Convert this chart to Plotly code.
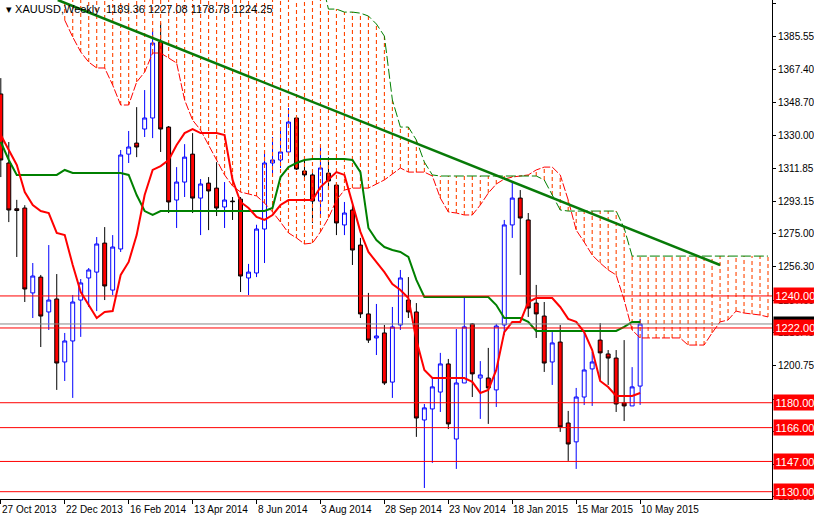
import plotly.graph_objects as go

opens = [1353.5,1314.7,1289,1289.4,1241.7,1250.6,1231,1238.3,1202.9,1214.7,1237.7,1250.1,1253.4,1269.7,1243.3,1266.4,1319.7,1325.9,1333.8,1340,
         1382.7,1334.9,1293.9,1304,1319.7,1295,1303.4,1300.6,1290,1293.3,1294.4,1250.1,1252.9,1277.6,1314.7,1316.4,1320.9,1340,1310.2,1308,
         1293.3,1309,1302.3,1279.9,1288.3,1268.6,1229.9,1216.4,1219.2,1191.6,1223.7,1237.7,1231,1170.3,1176.5,1186,1201.8,1159.6,1191.1,1224.3,
         1193.9,1193.9,1187.2,1223.7,1279.9,1295,1282.7,1236,1228.7,1202.9,1214.1,1168.6,1158,1183.2,1199,1215.2,1207.4,1205.1,1179.9,1178.2,1189.36]
highs = [1362.4,1326.5,1294,1291,1258.5,1251.8,1268.6,1252.3,1219.2,1240.5,1249.5,1255.7,1273.1,1278.7,1274.2,1322,1332.7,1346.1,1355.7,1388.8,
         1393.3,1335.5,1312.4,1325.3,1331.5,1305.7,1306.8,1315.2,1304,1295.6,1295.6,1258,1280,1322,1329.3,1334.9,1345.6,1340.6,1318,1309,
         1323.7,1318,1304,1292.8,1291,1272.6,1241.7,1235.5,1223.7,1233.8,1254.6,1250.6,1236,1179.3,1193.9,1208,1204.6,1221.4,1238.9,1224.8,
         1203.4,1210.8,1224.3,1282.7,1304,1299.5,1286.6,1246.2,1236.6,1219.7,1223.7,1175.4,1188.3,1220.9,1208.5,1224.8,1209.6,1209.6,1215.2,1200,1227.08]
lows = [1306.8,1281.5,1261.9,1236.6,1227.6,1211.3,1220.9,1187.2,1192.2,1182.7,1217,1233.8,1231.5,1237.7,1240.5,1264.7,1314.7,1318,1329.3,1328.7,
        1320.9,1286.6,1278.2,1295.6,1286.6,1274.2,1277,1284.9,1278.2,1282.7,1242.2,1240.5,1250.6,1258.5,1308,1311.9,1320.3,1310.8,1306,1281,
        1284.4,1299.5,1274.2,1274.2,1257.4,1227.6,1213.6,1206.8,1190,1182.7,1220.9,1227.6,1160.8,1132.1,1146.2,1174.8,1165.2,1142.8,1191.1,1183.2,
        1170.9,1168.1,1177.6,1218,1272.6,1251.8,1228.2,1216.4,1197.3,1190,1163.6,1147.3,1142.8,1178.7,1178.2,1192.8,1190,1174.8,1169.7,1178.2,1178.78]
closes = [1316.4,1288.3,1288,1243.9,1251.2,1228.7,1237.7,1202.3,1214.7,1236.6,1247.3,1254.6,1269.2,1245.6,1267.5,1319.2,1323.7,1323.7,1340,1382.1,
          1333.8,1292.8,1304,1318,1295,1302.9,1299,1289.4,1293.9,1293,1251.2,1253.4,1277.6,1314.7,1316.4,1320.9,1337.7,1311.3,1308,1293.3,
          1311.9,1304.6,1281,1286.6,1265.8,1229.9,1215.2,1217.5,1191.1,1222.6,1250.1,1231,1171.4,1177.1,1188.9,1201.8,1168.1,1191.1,1222.6,1196.2,
          1195.6,1188.3,1223.1,1279.9,1295,1283.8,1233.2,1229.9,1202.3,1213.6,1166.4,1156.8,1183.2,1198.4,1202.9,1208,1205.1,1179.3,1178.2,1188.9,1224.25]

tenkan = [1330.4,1322,1313.6,1298.4,1291.1,1287.7,1286.6,1275.4,1274.2,1257.4,1242.2,1234.9,1227.6,1231,1231.5,1251.8,1259.1,1274.2,1296.7,1310.8,
          1313,1316.4,1324.8,1331.5,1333.7,1331.5,1331.5,1331.5,1330.4,1305.2,1292.8,1289.4,1284.4,1282.7,1285.5,1291.1,1293.9,1293.9,1293.9,1293.9,
          1301.2,1305.2,1309.6,1308,1292.2,1276,1264.7,1259.1,1253.4,1246.7,1243.3,1238.8,1215.2,1198.4,1193.9,1193.9,1193.9,1193.9,1193.9,1191.7,
          1185.5,1187.2,1198.4,1219.7,1225.4,1225.4,1236.6,1238.8,1238.8,1238.8,1233.8,1227.1,1225.4,1219.7,1209.6,1192.2,1188.8,1183.8,1183.8,1183.8,1185.5]
kijun = ([1326.5,1316.4] + [1308]*6 + [1310.8] + [1309.1]*7 + [1308,1296.7,1287.7,1285.5] + [1287.7]*14 +
         [1289.4,1306.8,1312.4,1314.7,1316.4] + [1316.9]*5 + [1316.4,1309.6,1278.2,1271.4,1267.5,1265.8,1264.7,1261.9,1249] +
         [1239.4]*9 + [1234.9] + [1227.6]*3 + [1225.4] + [1220.3]*11 + [1222.6] + [1225.4]*2)

cloud_start = 8
span_a = ([1395.0,1385.5,1377.1,1371.4,1368.1,1368.1,1358.5,1347.3,1347.3,1360.2,1365.8,1376.5,1376.5,1373.7,1370.9,1350.1,1338.8,1333.2,
           1324.8,1316.4,1308,1301.8,1298.4,1297.3,1296.2,1292.2,1287.2,1281.5,1275.4,1272.6,1269.2,1269.7,1276,1283.8,1293.9,1299.5,1300.6,
           1300.6,1300.6,1302.9,1305.2,1308.5,1311.9,1309.6,1309.6,1309.6,1307.4,1295,1287.2,1286.6,1285.5,1285.5,1291.1,1297.8,1302.9,1305.7,
           1306.8,1307.4,1308,1310.8,1312.4,1312.4,1308,1293.9,1277,1270.3,1263,1258.5,1254.6,1251.8,1237.7,1220.9,1216.4] + [1216.4]*5 +
          [1212.4]*3 + [1219.2,1225.4,1226.5,1231.5,1230.4,1229.9,1229.3,1228.2])
span_b = ([1420]*33 + [1401.2,1401.2,1399.5,1399.5,1398.9,1397.3,1392.8,1386.0,1350.1,1334.9,1334.9,1327.6,1315.2,1308] +
          [1307.4]*13 + [1305.2,1296.7,1288.3] + [1287.7]*7 + [1278.2] + [1262.4]*18)

levels = [1240.00, 1222.00, 1180.00, 1166.00, 1147.00, 1130.00]
last_price = 1224.25
trend_x = [7.125, 90]
trend_y = [1406.3, 1257.4]
date_idx = [0, 8, 16, 24, 32, 40, 48, 56, 64, 72, 80]
date_labels = ["27 Oct 2013", "22 Dec 2013", "16 Feb 2014", "13 Apr 2014", "8 Jun 2014", "3 Aug 2014",
               "28 Sep 2014", "23 Nov 2014", "18 Jan 2015", "15 Mar 2015", "10 May 2015"]
ytick_vals = [1404.25,1385.55,1367.40,1348.70,1330.00,1311.85,1293.15,1275.00,1256.30,1237.60,1219.45,1200.75,1182.05,1163.90,1145.20,1127.05]

FONT = "Liberation Sans"
n = len(opens)
xs = list(range(n))
cx = list(range(cloud_start, cloud_start + len(span_a)))

fig = go.Figure()
hx, hy = [], []
for x, a, b in zip(cx, span_a, span_b):
    hx += [x, x, None]
    hy += [min(a, b), max(a, b), None]
fig.add_trace(go.Scatter(x=hx, y=hy, mode="lines", line=dict(color="#FF4500", width=1.1, dash="4px,3px"), hoverinfo="skip"))
fig.add_trace(go.Scatter(x=cx, y=span_a, mode="lines", line=dict(color="#FF0000", width=1, dash="8px,2px"), hoverinfo="skip"))
fig.add_trace(go.Scatter(x=cx, y=span_b, mode="lines", line=dict(color="#008000", width=1, dash="10px,3px"), hoverinfo="skip"))

fig.add_trace(go.Candlestick(x=xs, open=opens, high=highs, low=lows, close=closes,
                             increasing=dict(line=dict(color="#0000FF", width=1), fillcolor="#FFFFFF"),
                             decreasing=dict(line=dict(color="#000000", width=1), fillcolor="#FF0000"),
                             whiskerwidth=0, hoverinfo="skip"))
fig.add_trace(go.Scatter(x=xs, y=kijun, mode="lines", line=dict(color="#008000", width=2), hoverinfo="skip"))
fig.add_trace(go.Scatter(x=xs, y=tenkan, mode="lines", line=dict(color="#FF0000", width=2), hoverinfo="skip"))
fig.add_trace(go.Scatter(x=trend_x, y=trend_y, mode="lines", line=dict(color="#087A08", width=2.5), hoverinfo="skip"))

shapes = [dict(type="line", xref="paper", x0=0, x1=1, yref="y", y0=last_price, y1=last_price,
               line=dict(color="#888888", width=1))]
for lv in levels:
    shapes.append(dict(type="line", xref="paper", x0=0, x1=1, yref="y", y0=lv, y1=lv, line=dict(color="#FF0000", width=1)))

ann = []
for i, lbl in zip(date_idx, date_labels):
    ann.append(dict(x=i, y=0, xref="x", yref="paper", yanchor="top", xanchor="left", yshift=-3, xshift=-1,
                    text=lbl, showarrow=False, font=dict(family=FONT, size=10, color="black")))
ann.append(dict(xref="paper", x=1, y=last_price, yref="y", xanchor="left", xshift=1, text="%.2f" % last_price,
                showarrow=False, bgcolor="#000000", font=dict(family=FONT, size=11, color="white"), borderpad=1))
for lv in levels:
    ann.append(dict(xref="paper", x=1, y=lv, yref="y", xanchor="left", xshift=1, text="%.2f" % lv,
                    showarrow=False, bgcolor="#FF0000", font=dict(family=FONT, size=11, color="white"), borderpad=1.5))
ann.append(dict(xref="paper", yref="paper", x=0, y=1, xanchor="left", yanchor="top", xshift=4, yshift=-1,
                text="▾ XAUUSD,Weekly  %.2f %.2f %.2f %.2f" % (opens[-1], highs[-1], lows[-1], closes[-1]),
                showarrow=False, font=dict(family=FONT, size=11, color="black")))

fig.update_layout(width=814, height=516, margin=dict(l=0, r=42, t=0, b=17),
                  paper_bgcolor="white", plot_bgcolor="white", showlegend=False,
                  font=dict(family=FONT, size=10, color="black"),
                  shapes=shapes, annotations=ann)
fig.update_xaxes(range=[-0.1, 96.5], showgrid=False, zeroline=False, rangeslider_visible=False,
                 tickvals=date_idx, showticklabels=False, ticks="outside", ticklen=4, tickcolor="black",
                 showline=True, linecolor="black", linewidth=1)
fig.update_yaxes(range=[1125.9, 1406.3], side="right", showgrid=False, zeroline=False,
                 tickvals=ytick_vals, ticktext=["%.2f" % v for v in ytick_vals], ticks="outside", ticklen=3,
                 tickcolor="black", showline=True, linecolor="black", linewidth=1, tickfont=dict(family=FONT, size=10))
fig.write_html("out.html", config={"displayModeBar": False},
               post_script="document.body.style.margin='0';document.body.style.overflow='hidden';")
